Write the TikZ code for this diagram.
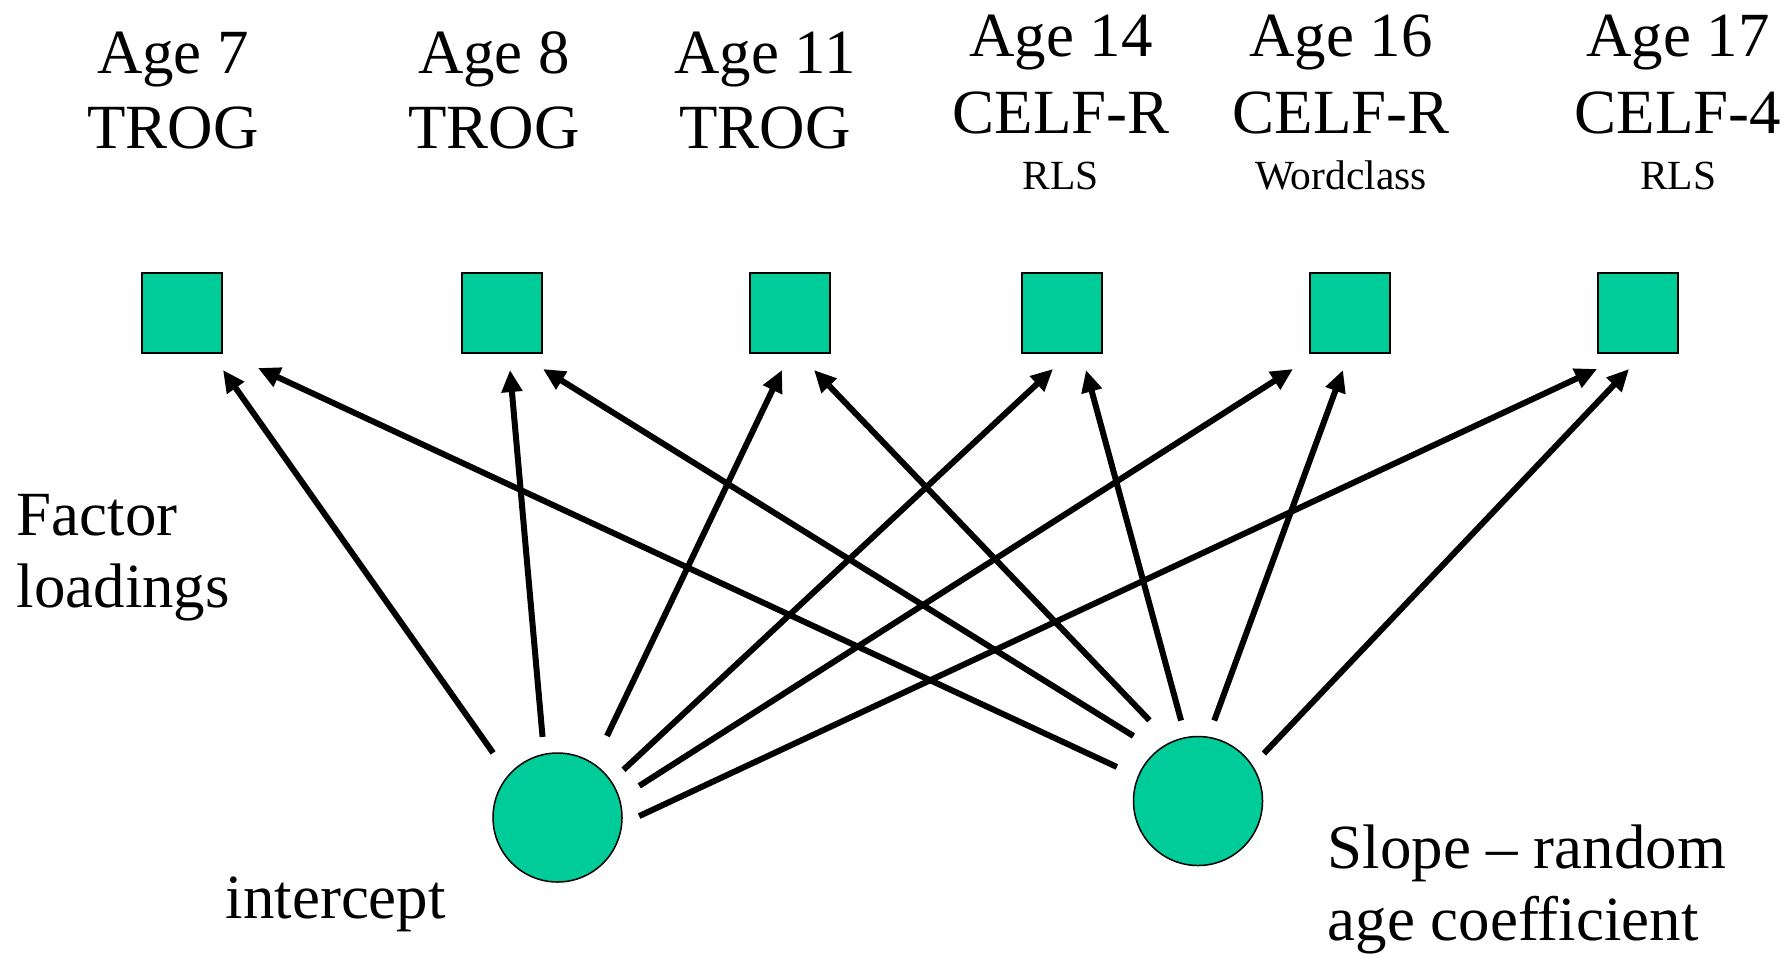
\documentclass[tikz,border=0pt]{standalone}
\usepackage{fontspec}
\setmainfont{Liberation Serif}
\usetikzlibrary{arrows.meta}
\definecolor{latgreen}{HTML}{00CC99}

\tikzset{
    obs/.style  = {draw, fill=latgreen, minimum size=8mm, inner sep=0pt, outer sep=0pt, line width=0.2mm},
    lat/.style  = {circle, draw, fill=latgreen, minimum size=12.9mm, inner sep=0pt, outer sep=0pt, line width=0.15mm},
    load/.style = {line width=0.6mm, -{Triangle[length=2.2mm, width=2mm]}},
    head/.style = {anchor=base, inner sep=0pt, font=\fontsize{17.9}{21}\selectfont},
    sub/.style  = {anchor=base, inner sep=0pt, font=\fontsize{11.8}{14}\selectfont},
    lbl/.style  = {anchor=base west, inner sep=0pt, font=\fontsize{17.9}{21}\selectfont}
}

\begin{document}
\begin{tikzpicture}[x=0.1mm, y=-0.1mm]
        \useasboundingbox (0,0) rectangle (1792,957);
        % headings
        \foreach \n/\x/\age/\test in {1/173/Age 7/TROG, 2/494/Age 8/TROG, 3/765/Age 11/TROG} {
            \node[head] (age\n)  at (\x,73.5)  {\age};
            \node[head] (test\n) at (\x,148.5) {\test};
        }
        \foreach \n/\x/\age/\test/\part in {4/1061/Age 14/CELF-R/RLS, 5/1341/Age 16/CELF-R/Wordclass,
                                                6/1678/Age 17/CELF-4/RLS} {
            \node[head] (age\n)  at (\x,56.7)  {\age};
            \node[head] (test\n) at (\x,133.3) {\test};
            \node[sub]  (part\n) at (\x,189.3) {\part};
        }
        % measures
        \foreach \n/\x in {1/182, 2/502, 3/790, 4/1062, 5/1350, 6/1638}
            \node[obs] (sq\n) at (\x,313) {};
        % growth factors
        \node[lat] (ic) at (557.5,817.5) {};
        \node[lat] (sl) at (1198,801)    {};
        \node[lbl] (factor)   at (16,535)   {Factor};
        \node[lbl] (loadings) at (16,607)   {loadings};
        \node[lbl] (icname)   at (225,918)  {intercept};
        \node[lbl] (slname)   at (1327,868) {Slope \textendash{} random};
        \node[lbl] (slname2)  at (1327,940) {age coefficient};
        % loadings
        \foreach \a/\g/\n/\dx/\dy in {139.2/2.73/1/41/17, 102.5/1.76/2/8/17, 56.0/3.11/3/-8/17,
                                      34.8/1.71/4/-9/16, 17.8/2.38/5/-57/16, -6.8/1.93/6/-41/16}
            \draw[load, shorten <=\g mm] (ic.\a) -- ([shift={(\dx,\dy)}]sq\n.south);
        \foreach \a/\g/\n/\dx/\dy in {158.9/2.35/1/76/15, 129.9/2.82/2/41/16, 115.6/3.08/3/24/17,
                                      101.1/1.78/4/24/17, 81.2/1.79/5/-7/17, 33.8/1.71/6/-9/16}
            \draw[load, shorten <=\g mm] (sl.\a) -- ([shift={(\dx,\dy)}]sq\n.south);
        %
\end{tikzpicture}
\end{document}
